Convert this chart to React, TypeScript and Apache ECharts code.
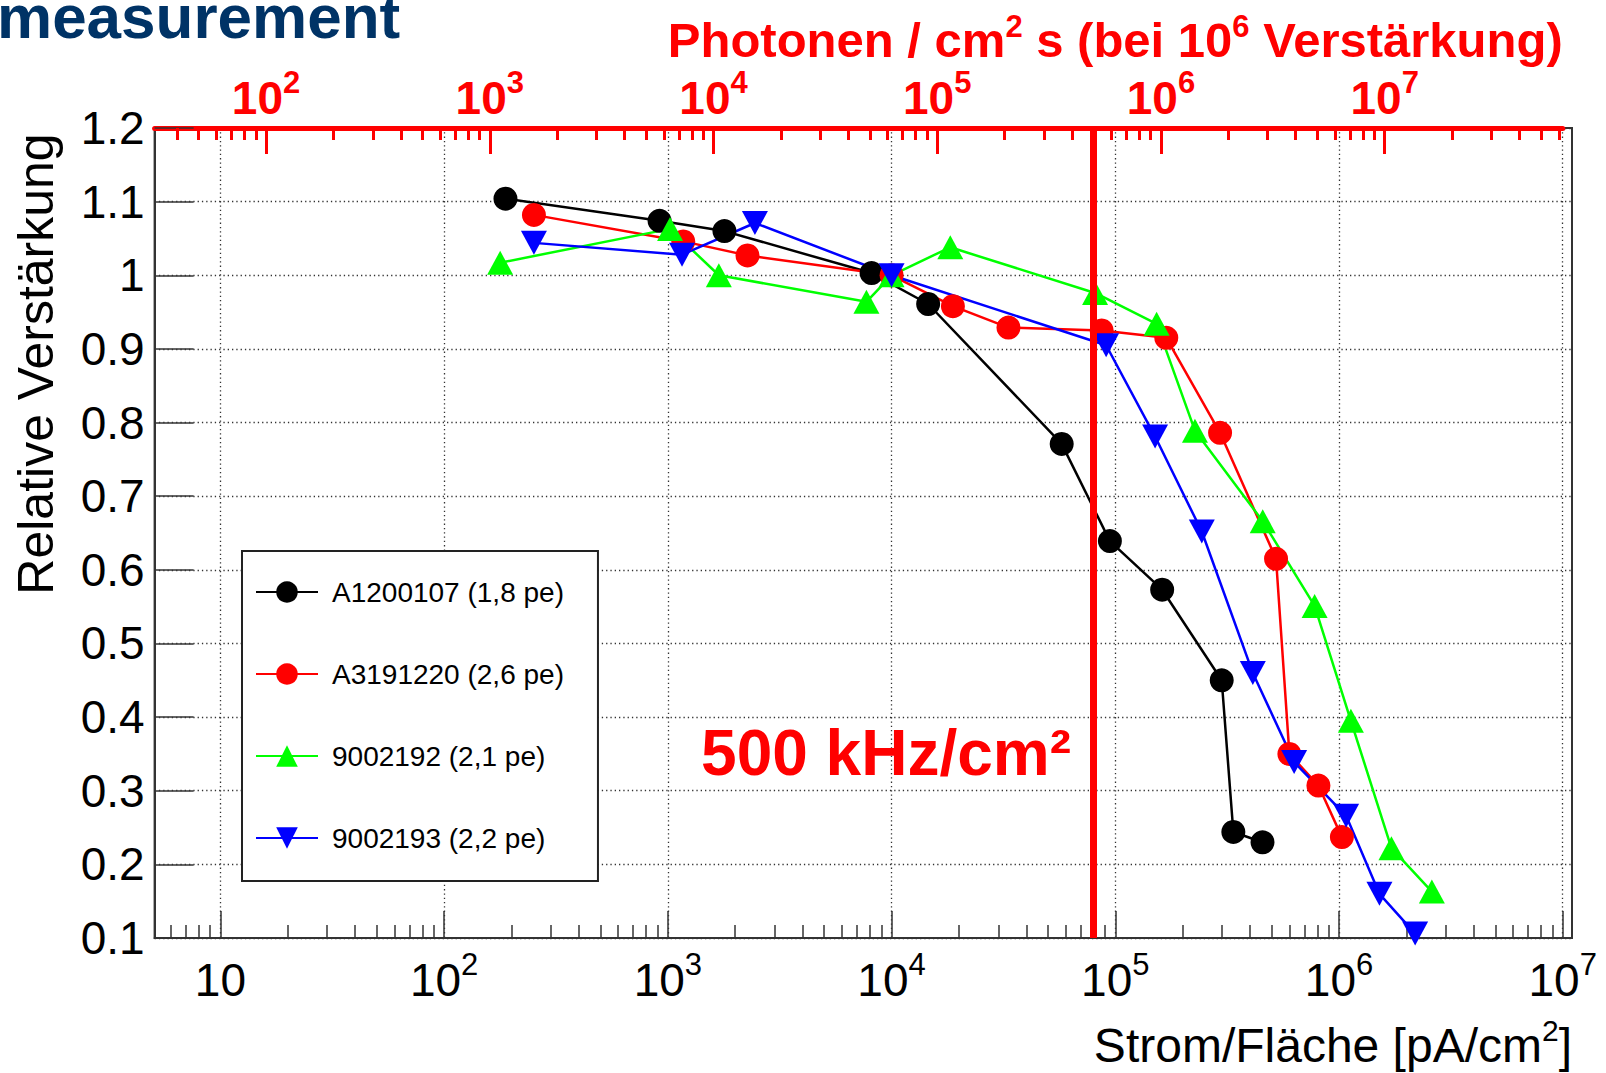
import React, { useEffect, useRef } from 'react';
import * as echarts from 'echarts';

const FONT = "'Liberation Sans', Arial, Helvetica, sans-serif";

// PMT names as shown in the legend
const NAMES = ['A1200107 (1,8 pe)', 'A3191220 (2,6 pe)', '9002192 (2,1 pe)', '9002193 (2,2 pe)'];
const COLORS = ['#000000', '#ff0000', '#00ff00', '#0000ff'];

// Strom/Fläche [pA/cm²] and relative gain per PMT
const A1200107_CURRENT = [188, 918, 1790, 8140, 14570, 57600, 94600, 162000, 299000, 337000, 455000];
const A1200107_GAIN = [1.104, 1.074, 1.06, 1.003, 0.961, 0.771, 0.639, 0.573, 0.45, 0.244, 0.23];

const A3191220_CURRENT = [252, 1172, 2270, 10000, 18800, 33300, 86900, 169000, 294000, 523000, 600000, 809000, 1030000];
const A3191220_GAIN = [1.082, 1.046, 1.027, 1.0, 0.958, 0.929, 0.925, 0.915, 0.786, 0.615, 0.35, 0.307, 0.237];

const PMT9002192_CURRENT = [178, 1023, 1690, 7720, 10000, 18300, 81200, 153000, 227000, 456000, 778000, 1130000, 1715000, 2600000];
const PMT9002192_GAIN = [1.017, 1.063, 1.0, 0.964, 1.0, 1.038, 0.976, 0.934, 0.789, 0.666, 0.551, 0.395, 0.222, 0.163];

const PMT9002193_CURRENT = [252, 1157, 2450, 10000, 91000, 150600, 243600, 411800, 630000, 1076000, 1516000, 2189000];
const PMT9002193_GAIN = [1.044, 1.028, 1.071, 1.0, 0.905, 0.781, 0.652, 0.46, 0.339, 0.266, 0.16, 0.106];

// Decade ticks of the current axis (bottom) and the photon-rate axis (top)
const CURRENT_TICKS = [10, 1e2, 1e3, 1e4, 1e5, 1e6, 1e7];
const PHOTON_TICKS = [1e2, 1e3, 1e4, 1e5, 1e6, 1e7];

// One photon per second at 10^6 gain gives e * 10^6 = 0.16 pA
const PA_PER_PHOTON = 0.16;
const RATE_KHZ = 500;
const RATE_CURRENT = RATE_KHZ * 1e3 * PA_PER_PHOTON;

// Page and frame geometry
const W = 1606;
const H = 1073;
const PLOT_LEFT = 154.6;
const PLOT_RIGHT = 1572;
const PLOT_TOP = 128;
const PLOT_BOTTOM = 938;
const X_MIN = 5.08;
const X_MAX = 1.1e7;
const TOP_AXIS_END = 1e7;
const topAxisRight =
  PLOT_LEFT +
  ((Math.log10(TOP_AXIS_END) - Math.log10(X_MIN)) / (Math.log10(X_MAX) - Math.log10(X_MIN))) *
    (PLOT_RIGHT - PLOT_LEFT);

const powerLabel = (v: number) => {
  const e = Math.log10(v);
  const k = Math.round(e);
  if (Math.abs(e - k) > 1e-6) return '';
  return k === 1 ? '{b|10}' : `{b|10}{s|${k}}`;
};

// A short token box pinned to the top of the line lifts the exponent above the digits
const powerRich = (color: string, weight: string) => ({
  b: { fontFamily: FONT, fontSize: 46, lineHeight: 46, color, fontWeight: weight },
  s: { fontFamily: FONT, fontSize: 31, lineHeight: 12, height: 14, color, fontWeight: weight, verticalAlign: 'top' },
});

const dotted = { type: [1.3, 3] as number[], color: '#333', width: 1.3 };

const lineSeries = (
  name: string,
  xs: number[],
  ys: number[],
  color: string,
  symbol: string,
  size: number | number[],
  extra: Record<string, unknown> = {}
) => ({
  name,
  type: 'line',
  xAxisIndex: 0,
  yAxisIndex: 0,
  data: xs.map((x, i) => [x, ys[i]]),
  symbol,
  symbolSize: size,
  showSymbol: true,
  color,
  lineStyle: { color, width: 2.5 },
  itemStyle: { color, borderWidth: 0 },
  emphasis: { disabled: true },
  ...extra,
});

const option = {
  animation: false,
  backgroundColor: '#ffffff',
  grid: [
    {
      left: PLOT_LEFT,
      right: W - PLOT_RIGHT,
      top: PLOT_TOP,
      bottom: H - PLOT_BOTTOM,
      show: true,
      borderColor: '#333',
      borderWidth: 2,
      backgroundColor: 'transparent',
    },
    {
      left: PLOT_LEFT,
      right: W - topAxisRight,
      top: PLOT_TOP,
      bottom: H - PLOT_BOTTOM,
      show: false,
    },
  ],
  xAxis: [
    {
      type: 'log',
      gridIndex: 0,
      position: 'bottom',
      min: X_MIN,
      max: X_MAX,
      axisLine: { show: true, onZero: false, lineStyle: { color: '#333', width: 2 } },
      axisTick: { show: true, inside: true, length: 27, customValues: CURRENT_TICKS, lineStyle: { color: '#333', width: 1.5 } },
      minorTick: { show: true, splitNumber: 9, length: 13, lineStyle: { color: '#333', width: 1.5 } },
      axisLabel: {
        show: true,
        customValues: CURRENT_TICKS,
        margin: 19,
        formatter: powerLabel,
        rich: powerRich('#000000', 'normal'),
      },
      splitLine: { show: true, lineStyle: dotted },
      minorSplitLine: { show: false },
    },
    {
      type: 'log',
      gridIndex: 1,
      position: 'top',
      min: X_MIN / PA_PER_PHOTON,
      max: TOP_AXIS_END / PA_PER_PHOTON,
      axisLine: { show: true, onZero: false, lineStyle: { color: '#ff0000', width: 5 } },
      axisTick: { show: true, inside: true, length: 26, customValues: PHOTON_TICKS, lineStyle: { color: '#ff0000', width: 3 } },
      minorTick: { show: true, splitNumber: 9, length: 12, lineStyle: { color: '#ff0000', width: 3 } },
      axisLabel: {
        show: true,
        customValues: PHOTON_TICKS,
        margin: 7,
        formatter: powerLabel,
        rich: powerRich('#ff0000', 'bold'),
      },
      splitLine: { show: false },
    },
  ],
  yAxis: [
    {
      type: 'value',
      gridIndex: 0,
      min: 0.1,
      max: 1.2,
      interval: 0.1,
      axisLine: { show: true, onZero: false, lineStyle: { color: '#333', width: 2 } },
      axisTick: { show: true, inside: true, length: 39, lineStyle: { color: '#333', width: 1.5 } },
      axisLabel: {
        show: true,
        margin: 10,
        fontFamily: FONT,
        fontSize: 46,
        color: '#000',
        formatter: (v: number) => String(Number(v.toFixed(1))),
      },
      splitLine: { show: true, lineStyle: dotted },
    },
    { type: 'value', gridIndex: 1, show: false, min: 0, max: 1 },
  ],
  legend: {
    show: true,
    orient: 'vertical',
    left: 242,
    top: 551,
    padding: [27, 34, 29, 13],
    itemGap: 54,
    itemWidth: 62,
    itemHeight: 27,
    backgroundColor: '#ffffff',
    borderColor: '#222',
    borderWidth: 2,
    borderRadius: 0,
    selectedMode: false,
    textStyle: { fontFamily: FONT, fontSize: 28, color: '#000', lineHeight: 27, padding: [0, 0, 0, 9] },
    data: NAMES,
  },
  series: [
    lineSeries(NAMES[0], A1200107_CURRENT, A1200107_GAIN, COLORS[0], 'circle', 24),
    lineSeries(NAMES[1], A3191220_CURRENT, A3191220_GAIN, COLORS[1], 'circle', 24),
    lineSeries(NAMES[2], PMT9002192_CURRENT, PMT9002192_GAIN, COLORS[2], 'triangle', [26, 24]),
    lineSeries(NAMES[3], PMT9002193_CURRENT, PMT9002193_GAIN, COLORS[3], 'path://M0,0L20,0L10,19Z', [26, 24], {
      markLine: {
        silent: true,
        z: 10,
        symbol: ['none', 'none'],
        label: { show: false },
        lineStyle: { color: '#ff0000', width: 7, type: 'solid' },
        emphasis: { disabled: true },
        data: [{ xAxis: RATE_CURRENT }],
      },
    }),
  ],
  graphic: [
    {
      type: 'text',
      x: -3,
      y: 16,
      style: {
        text: 'measurement',
        fontFamily: FONT,
        fontSize: 62,
        fontWeight: 'bold',
        fill: '#003366',
        align: 'left',
        verticalAlign: 'middle',
      },
    },
    {
      type: 'text',
      x: topAxisRight,
      y: 40,
      style: {
        text: '{a|Photonen / cm}{s|2}{a| s (bei 10}{s|6}{a| Verstärkung)}',
        align: 'right',
        verticalAlign: 'middle',
        rich: {
          a: { fontFamily: FONT, fontSize: 49, fontWeight: 'bold', fill: '#ff0000', lineHeight: 50 },
          s: { fontFamily: FONT, fontSize: 31, fontWeight: 'bold', fill: '#ff0000', lineHeight: 14, height: 22, verticalAlign: 'top' },
        },
      },
    },
    {
      type: 'text',
      x: 36,
      y: 364,
      rotation: Math.PI / 2,
      style: {
        text: 'Relative Verstärkung',
        fontFamily: FONT,
        fontSize: 50,
        fill: '#000',
        align: 'center',
        verticalAlign: 'middle',
      },
    },
    {
      type: 'text',
      x: PLOT_RIGHT,
      y: 1045,
      style: {
        text: '{a|Strom/Fläche [pA/cm}{s|2}{a|]}',
        align: 'right',
        verticalAlign: 'middle',
        rich: {
          a: { fontFamily: FONT, fontSize: 48, fill: '#000', lineHeight: 48 },
          s: { fontFamily: FONT, fontSize: 30, fill: '#000', lineHeight: 14, height: 18, verticalAlign: 'top' },
        },
      },
    },
    {
      type: 'text',
      x: 1071,
      y: 753,
      z: 20,
      style: {
        text: `${RATE_KHZ} kHz/cm²`,
        fontFamily: FONT,
        fontSize: 64,
        fontWeight: 'bold',
        fill: '#ff0000',
        align: 'right',
        verticalAlign: 'middle',
      },
    },
  ],
};

export default function App() {
  const ref = useRef<HTMLDivElement>(null);
  useEffect(() => {
    if (!ref.current) return;
    const chart = echarts.init(ref.current, null, { renderer: 'svg' });
    chart.setOption(option as any);
    return () => chart.dispose();
  }, []);
  return (
    <div
      ref={ref}
      style={{ position: 'absolute', left: 0, top: 0, width: W, height: H, background: '#ffffff' }}
    />
  );
}
